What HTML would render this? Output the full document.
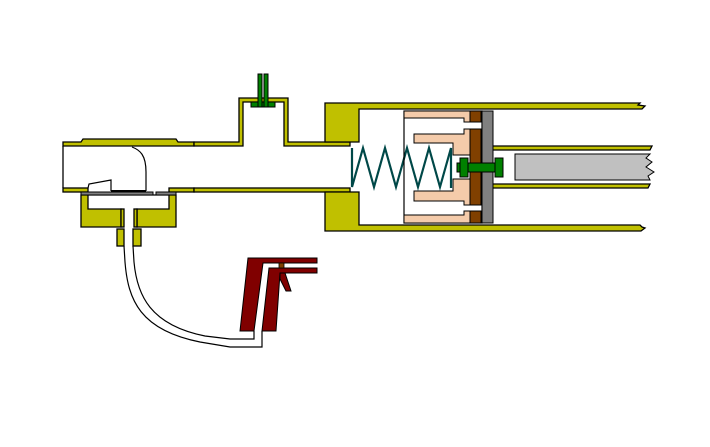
<!DOCTYPE html>
<html><head><style>html,body{margin:0;padding:0;background:#fff}svg{display:block}</style></head>
<body>
<svg width="710" height="447" viewBox="0 0 710 447" xmlns="http://www.w3.org/2000/svg">
<g stroke="#000" stroke-width="1.3" fill="#c0c000" stroke-linejoin="miter">
<!-- main tube top wall -->
<polygon points="63,142 81,142 83,139 176,139 178,142 194,142 194,146 63,146"/>
<polygon points="194,142 239,142 239,98 288,98 288,142 350,142 350,146 284,146 284,102 243,102 243,146 194,146"/>
<!-- bottom walls -->
<rect x="63" y="188" width="25" height="4"/>
<rect x="169" y="188" width="25" height="4"/>
<rect x="194" y="188" width="156" height="4"/>
<!-- left end line -->
<line x1="63" y1="146" x2="63" y2="188" fill="none"/>
<!-- housing -->
<polygon points="81,195 176,195 176,227 137,227 137,209 169,209 169,195 88,195 88,209 121,209 121,227 81,227"/>
<rect x="121" y="209" width="3" height="18"/>
<rect x="134" y="209" width="3" height="18"/>
<rect x="117" y="229" width="7" height="17"/>
<rect x="133" y="229" width="8" height="17"/>
<!-- right block -->
<polygon points="325,103 640,103 638,105 645,106 642,109 359,109 359,142 325,142"/>
<polygon points="325,192 359,192 359,225 640,225 642,227 645,228 641,231 325,231"/>
<!-- rod tube walls -->
<polygon points="492,146 652,146 650,150 492,150"/>
<polygon points="492,184 650,184 648,188 492,188"/>
</g>
<!-- grey plates -->
<g stroke="#000" stroke-width="1" fill="#808080">
<rect x="81" y="192" width="72" height="3"/>
<rect x="156" y="192" width="20" height="3"/>
</g>
<!-- flap -->
<g fill="none" stroke="#000" stroke-width="1.2">
<path d="M132,147 C140,150 146,155 146,172 L146,191"/>
<path d="M88,188 L89,184 L111,180 L111,191"/>
</g>
<line x1="111" y1="191" x2="146" y2="191" stroke="#000" stroke-width="2"/>
<!-- valve -->
<g stroke="#000" stroke-width="1" fill="#008000">
<rect x="251" y="102" width="24" height="5"/>
<rect x="258" y="74" width="4" height="33"/>
<rect x="264" y="74" width="4" height="33"/>
</g>
<!-- spring -->
<polyline points="352,148 352,187 363,148 374,187 385,148 396,187 407,148 418,187 429,148 440,187 451,148 451,188" fill="none" stroke="#004848" stroke-width="2.2"/>
<!-- piston cup -->
<rect x="404" y="111" width="78" height="112" fill="none" stroke="#000" stroke-width="1.2"/>
<g stroke="#000" stroke-width="1" fill="#f4cbaa">
<polygon points="404,111 470,111 470,122 464,122 464,118 404,118"/>
<polygon points="414,134 464,134 464,129 470,129 470,155 453,155 453,143 414,143"/>
<polygon points="414,201 464,201 464,205 470,205 470,179 453,179 453,191 414,191"/>
<polygon points="404,223 470,223 470,211 464,211 464,215 404,215"/>
</g>
<g stroke="#000" stroke-width="1" fill="#804000">
<rect x="470" y="111" width="11" height="11"/>
<rect x="470" y="129" width="11" height="76"/>
<rect x="470" y="211" width="11" height="12"/>
</g>
<rect x="482" y="111" width="11" height="112" fill="#808080" stroke="#000" stroke-width="1"/>
<g stroke="#000" stroke-width="1" fill="#008000">
<rect x="457" y="163" width="46" height="9"/>
<rect x="460" y="158" width="8" height="19"/>
<rect x="495" y="158" width="8" height="19"/>
</g>
<!-- rod -->
<polygon points="515,154 650,154 646,158 652,162 646,167 654,172 648,176 650,180 515,180" fill="#c0c0c0" stroke="#000" stroke-width="1"/>
<!-- hose -->
<g fill="none" stroke="#000" stroke-width="1.2">
<path d="M124,246 L125,262 C128,300 140,330 200,342 L230,347 L262,347 L262,331"/>
<path d="M133,246 L134,262 C137,295 150,325 205,336 L230,339 L254,339 L254,331"/>
</g>
<!-- gun -->
<g stroke="#000" stroke-width="1" fill="#800000">
<polygon points="248,258 317,258 317,263 263,263 254,331 240,331"/>
<polygon points="269,268 317,268 317,273 280,273 276,331 262,331"/>
<polygon points="280,273 285,273 291,291 286,291 280,279"/>
</g>
<rect x="279" y="263" width="5" height="5" fill="#804000" stroke="#000" stroke-width="0.8"/>
</svg>
</body></html>
